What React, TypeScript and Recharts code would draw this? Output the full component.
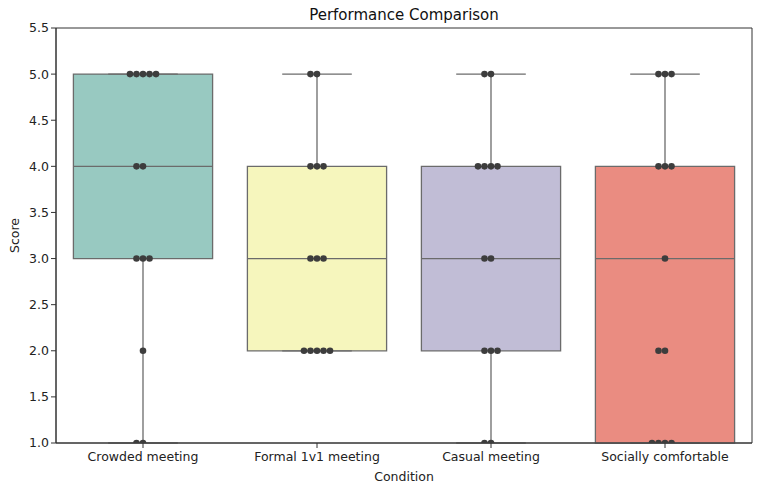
import React from "react";
import { ComposedChart, Scatter, XAxis, YAxis, ReferenceArea, ReferenceLine, Label } from "recharts";

const conditions = ["Crowded meeting", "Formal 1v1 meeting", "Casual meeting", "Socially comfortable"];
const crowdedScores = [5, 5, 5, 5, 5, 4, 4, 3, 3, 3, 2, 1, 1];
const formalScores = [5, 5, 4, 4, 4, 3, 3, 3, 2, 2, 2, 2, 2];
const casualScores = [5, 5, 4, 4, 4, 4, 3, 3, 2, 2, 2, 1, 1];
const socialScores = [5, 5, 5, 4, 4, 4, 3, 2, 2, 1, 1, 1, 1];
const scoreTicks = [1, 1.5, 2, 2.5, 3, 3.5, 4, 4.5, 5, 5.5];

const allScores = [crowdedScores, formalScores, casualScores, socialScores];
const fills = ["#98c9c1", "#f6f6bd", "#c1bdd6", "#ea8c81"];
const edge = "#6b6b6b";
const BOX_HALF = 0.4;
const CAP_HALF = 0.2;
const SWARM_STEP = 0.0374;

function quantile(sorted: number[], q: number) {
  const pos = (sorted.length - 1) * q;
  const lo = Math.floor(pos);
  const hi = Math.ceil(pos);
  return sorted[lo] + (sorted[hi] - sorted[lo]) * (pos - lo);
}

const stats = allScores.map((scores) => {
  const s = [...scores].sort((a, b) => a - b);
  const q1 = quantile(s, 0.25);
  const med = quantile(s, 0.5);
  const q3 = quantile(s, 0.75);
  const iqr = q3 - q1;
  const lo = Math.min(...s.filter((v) => v >= q1 - 1.5 * iqr));
  const hi = Math.max(...s.filter((v) => v <= q3 + 1.5 * iqr));
  return { q1, med, q3, lo, hi };
});

// swarm placement: center, left, right, left-left, right-right...
const swarmOrder = [0, -1, 1, -2, 2, -3, 3];
const points = allScores.flatMap((scores, i) => {
  const counts: Record<number, number> = {};
  return scores.map((v) => {
    const k = counts[v] ?? 0;
    counts[v] = k + 1;
    return { x: i + swarmOrder[k] * SWARM_STEP, y: v };
  });
});

const Dot = (props: any) => <circle cx={props.cx} cy={props.cy} r={3.3} fill="#3d3d3d" />;

const tickStyle = { fontSize: 12.5, fill: "#222", fontFamily: "DejaVu Sans" };

export default function App() {
  return (
    <div style={{ position: "absolute", left: 0, top: 0, width: 761, height: 491, background: "#fff", fontFamily: "DejaVu Sans" }}>
      <div style={{ position: "absolute", left: 56, width: 696, top: 6, textAlign: "center", fontSize: 15, color: "#111" }}>
        Performance Comparison
      </div>
      <ComposedChart width={761} height={491} margin={{ top: 28, right: 9, bottom: 18, left: 16 }}>
        <XAxis
          type="number"
          dataKey="x"
          domain={[-0.5, 3.5]}
          ticks={[0, 1, 2, 3]}
          tickFormatter={(v) => conditions[v]}
          tick={{ ...tickStyle, dy: 2 }}
          tickSize={5}
          stroke="#333"
          height={30}
          interval={0}
          allowDataOverflow
        >
          <Label value="Condition" position="insideBottom" offset={-8} style={{ fontSize: 12.5, fill: "#222" }} />
        </XAxis>
        <YAxis
          type="number"
          dataKey="y"
          domain={[1, 5.5]}
          ticks={scoreTicks}
          tickFormatter={(v) => v.toFixed(1)}
          tick={tickStyle}
          tickSize={5}
          stroke="#333"
          width={40}
          allowDataOverflow
        >
          <Label value="Score" angle={-90} position="insideLeft" offset={-1} style={{ fontSize: 12.5, fill: "#222", textAnchor: "middle" }} />
        </YAxis>
        <ReferenceArea x1={-0.5} x2={3.5} y1={1} y2={5.5} fill="none" stroke="#333" strokeWidth={1} />
        {stats.map((s, i) => (
          <ReferenceLine key={`wl${i}`} segment={[{ x: i, y: s.lo }, { x: i, y: s.q1 }]} stroke={edge} strokeWidth={1.3} />
        ))}
        {stats.map((s, i) => (
          <ReferenceLine key={`wh${i}`} segment={[{ x: i, y: s.q3 }, { x: i, y: s.hi }]} stroke={edge} strokeWidth={1.3} />
        ))}
        {stats.map((s, i) => (
          <ReferenceLine key={`cl${i}`} segment={[{ x: i - CAP_HALF, y: s.lo }, { x: i + CAP_HALF, y: s.lo }]} stroke={edge} strokeWidth={1.3} />
        ))}
        {stats.map((s, i) => (
          <ReferenceLine key={`ch${i}`} segment={[{ x: i - CAP_HALF, y: s.hi }, { x: i + CAP_HALF, y: s.hi }]} stroke={edge} strokeWidth={1.3} />
        ))}
        {stats.map((s, i) => (
          <ReferenceArea key={`b${i}`} x1={i - BOX_HALF} x2={i + BOX_HALF} y1={s.q1} y2={s.q3} fill={fills[i]} fillOpacity={1} stroke={edge} strokeWidth={1.3} />
        ))}
        {stats.map((s, i) => (
          <ReferenceLine key={`m${i}`} segment={[{ x: i - BOX_HALF, y: s.med }, { x: i + BOX_HALF, y: s.med }]} stroke={edge} strokeWidth={1.3} />
        ))}
        <Scatter data={points} dataKey="y" shape={<Dot />} isAnimationActive={false} />
      </ComposedChart>
    </div>
  );
}
